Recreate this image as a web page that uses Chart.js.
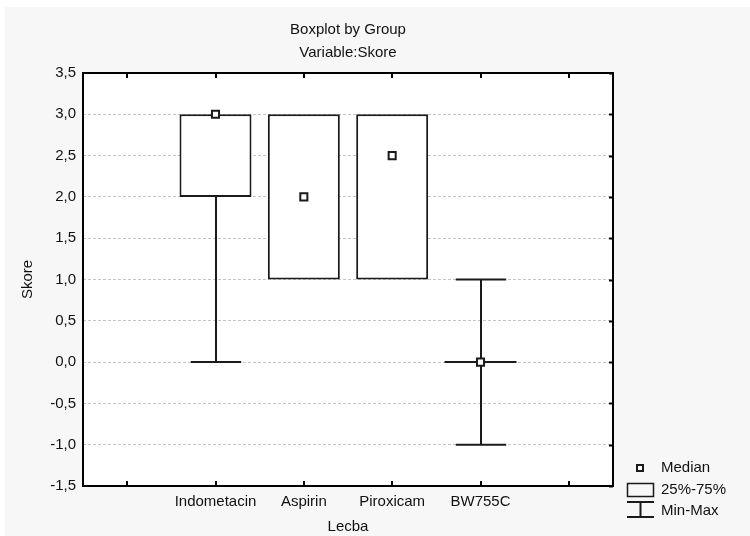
<!DOCTYPE html>
<html><head><meta charset="utf-8">
<script src="https://cdn.jsdelivr.net/npm/chart.js@4.4.1/dist/chart.umd.min.js"></script>
<style>html,body{margin:0;padding:0;background:#fff}#wrap{width:750px;height:536px}</style>
</head><body><div id="wrap"><canvas id="c" width="750" height="536"></canvas></div>
<script>
// ---- data ----
const categories = ['Indometacin', 'Aspirin', 'Piroxicam', 'BW755C'];
const medians = [3.0, 2.0, 2.5, 0.0];
const q1 = [2.0, 1.0, 1.0, 0.0];
const q3 = [3.0, 3.0, 3.0, 0.0];
const mins = [0.0, 1.0, 1.0, -1.0];
const maxs = [3.0, 3.0, 3.0, 1.0];
const yMin = -1.5, yMax = 3.5, yStep = 0.5;
const titleText = 'Boxplot by Group';
const subtitleText = 'Variable:Skore';
const xTitle = 'Lecba';
const yTitle = 'Skore';
const legendLabels = ['Median', '25%-75%', 'Min-Max'];

// empty slot on each side of the categories (as in the reference axis)
const labels = ['', ...categories, ''];
const pad = a => [null, ...a, null];

const FONT = 'Liberation Sans, Arial, sans-serif';
const FS = 15;
const INK = '#1a1a1a';

const deco = {
  id: 'deco',
  beforeDraw(chart) {
    const ctx = chart.ctx, a = chart.chartArea;
    ctx.save();
    ctx.fillStyle = '#ffffff';
    ctx.fillRect(0, 0, chart.width, chart.height);
    ctx.fillStyle = '#f7f7f7';
    ctx.fillRect(5, 7, chart.width - 5, chart.height - 7);
    ctx.fillStyle = '#ffffff';
    ctx.fillRect(a.left, a.top, a.right - a.left, a.bottom - a.top);
    ctx.restore();
  },
  afterDatasetDraw(chart, args) {
    if (args.index !== 0) return;
    const ctx = chart.ctx, y = chart.scales.y;
    const meta = chart.getDatasetMeta(0);
    ctx.save();
    ctx.strokeStyle = INK;
    ctx.lineWidth = 2;
    categories.forEach((c, i) => {
      const el = meta.data[i + 1];
      if (!el) return;
      const x = Math.round(el.x);
      const w = el.width;
      const cap = w * 0.7;
      const line = (x1, y1, x2, y2) => { ctx.beginPath(); ctx.moveTo(x1, y1); ctx.lineTo(x2, y2); ctx.stroke(); };
      const pMin = y.getPixelForValue(mins[i]), pMax = y.getPixelForValue(maxs[i]);
      const pQ1 = y.getPixelForValue(q1[i]), pQ3 = y.getPixelForValue(q3[i]);
      if (mins[i] < q1[i]) { line(x, pQ1, x, pMin); line(x - cap / 2, pMin, x + cap / 2, pMin); }
      if (maxs[i] > q3[i]) { line(x, pQ3, x, pMax); line(x - cap / 2, pMax, x + cap / 2, pMax); }
      if (q1[i] === q3[i]) { line(el.x - w / 2, pQ1, el.x + w / 2, pQ1); }
    });
    ctx.restore();
  },
  afterDraw(chart) {
    const ctx = chart.ctx, a = chart.chartArea, xs = chart.scales.x, ys = chart.scales.y;
    ctx.save();
    ctx.strokeStyle = '#000';
    ctx.lineWidth = 2;
    ctx.strokeRect(a.left, a.top, a.right - a.left, a.bottom - a.top);
    // inward tick marks
    for (let i = 0; i < labels.length; i++) {
      const x = Math.round(xs.getPixelForTick(i));
      ctx.beginPath();
      ctx.moveTo(x, a.bottom); ctx.lineTo(x, a.bottom - 5);
      ctx.moveTo(x, a.top); ctx.lineTo(x, a.top + 5);
      ctx.stroke();
    }
    ys.ticks.forEach((t, i) => {
      const yy = Math.round(ys.getPixelForTick(i)) + 0.5;
      ctx.beginPath(); ctx.moveTo(a.right, yy); ctx.lineTo(a.right - 4, yy); ctx.stroke();
    });
    // legend
    ctx.strokeStyle = INK;
    ctx.lineWidth = 2;
    ctx.fillStyle = '#fff';
    ctx.fillRect(637, 465, 6, 6);
    ctx.strokeRect(637, 465, 6, 6);
    ctx.lineWidth = 1.5;
    ctx.strokeRect(627.5, 483.5, 26, 13);
    ctx.lineWidth = 2;
    ctx.beginPath();
    ctx.moveTo(627, 502); ctx.lineTo(654, 502);
    ctx.moveTo(640.5, 502); ctx.lineTo(640.5, 517);
    ctx.moveTo(627, 517); ctx.lineTo(654, 517);
    ctx.stroke();
    ctx.fillStyle = '#111';
    ctx.font = FS + 'px ' + FONT;
    ctx.textBaseline = 'middle';
    ctx.textAlign = 'left';
    ctx.fillText(legendLabels[0], 661, 468);
    ctx.fillText(legendLabels[1], 661, 490);
    ctx.fillText(legendLabels[2], 661, 511);
    ctx.restore();
  }
};

new Chart(document.getElementById('c'), {
  type: 'bar',
  data: {
    labels: labels,
    datasets: [
      {
        type: 'bar',
        label: 'Box',
        data: pad(categories.map((c, i) => [q1[i], q3[i]])),
        backgroundColor: '#ffffff',
        borderColor: INK,
        borderWidth: 2,
        borderSkipped: false,
        grouped: false,
        barPercentage: 0.815,
        categoryPercentage: 1,
        order: 2
      },
      {
        type: 'line',
        label: 'Median',
        data: pad(medians),
        showLine: false,
        pointStyle: 'rect',
        pointRadius: 5,
        pointBorderWidth: 2,
        pointBackgroundColor: '#ffffff',
        pointBorderColor: INK,
        order: 1
      }
    ]
  },
  options: {
    responsive: false,
    devicePixelRatio: 1,
    animation: false,
    layout: { padding: { left: 0, right: 137, top: 0, bottom: 0 } },
    plugins: {
      legend: { display: false },
      tooltip: { enabled: false },
      title: {
        display: true, text: titleText, fullSize: false, color: '#111',
        font: { family: FONT, size: FS, weight: 'normal', lineHeight: 1.2 },
        padding: { top: 21, bottom: 0 }
      },
      subtitle: {
        display: true, text: subtitleText, fullSize: false, color: '#111',
        font: { family: FONT, size: FS, weight: 'normal', lineHeight: 1.2 },
        padding: { top: 5, bottom: 11 }
      }
    },
    scales: {
      x: {
        grid: { display: false, drawTicks: false },
        border: { display: false },
        ticks: { color: '#111', font: { family: FONT, size: FS }, padding: 7, autoSkip: false, maxRotation: 0 },
        title: { display: true, text: xTitle, color: '#111', font: { family: FONT, size: FS }, padding: { top: 0, bottom: 0 } },
        afterFit(s) { s.height = 50; }
      },
      y: {
        min: yMin, max: yMax,
        grid: { color: '#c4c4c4', lineWidth: 1, drawTicks: false },
        border: { display: false, dash: [3, 2] },
        ticks: {
          stepSize: yStep, color: '#111', padding: 7,
          font: { family: FONT, size: FS },
          callback: v => v.toFixed(1).replace('.', ',')
        },
        title: { display: true, text: yTitle, color: '#111', font: { family: FONT, size: FS }, padding: { top: 19, bottom: 0 } },
        afterFit(s) { s.width = 83; }
      }
    }
  },
  plugins: [deco]
});
</script>
</body></html>
